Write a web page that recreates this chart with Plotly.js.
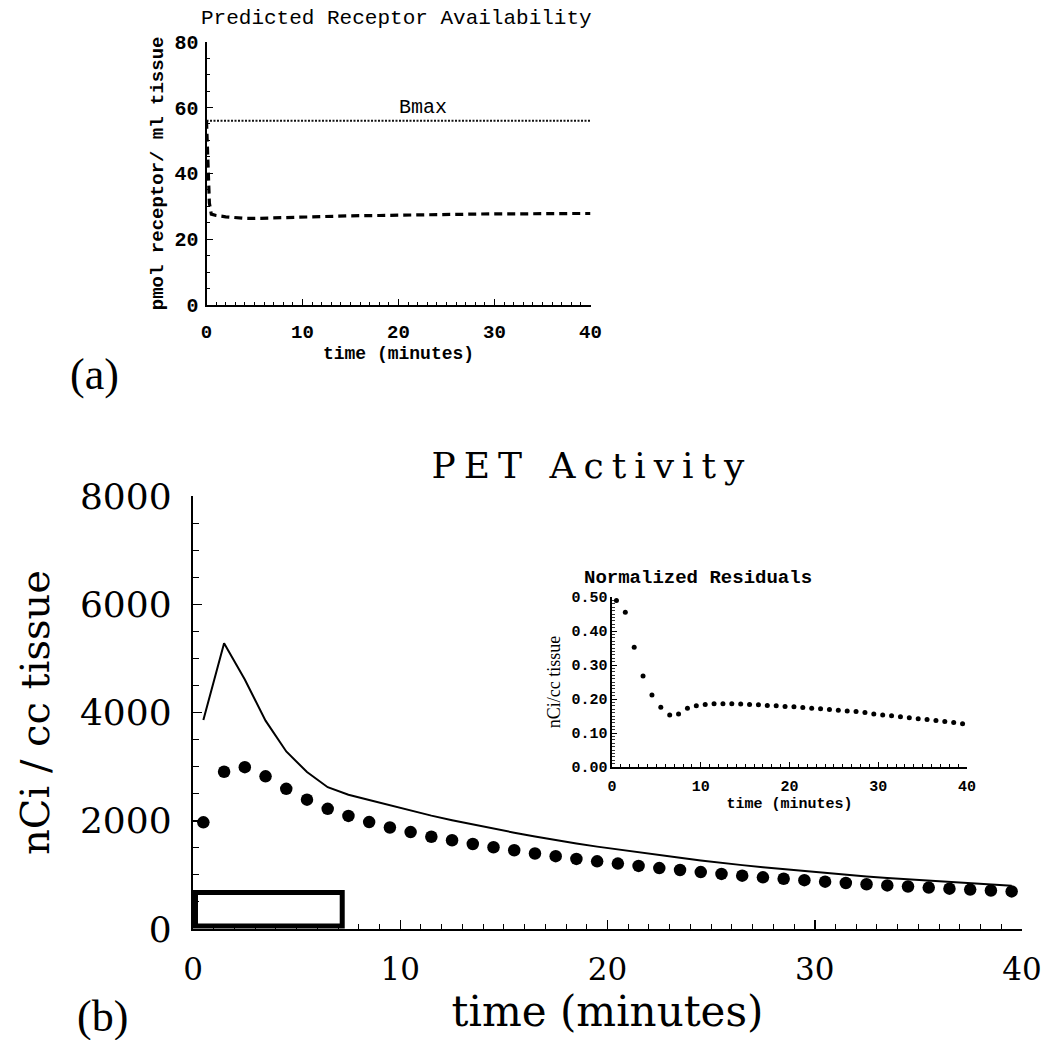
<!DOCTYPE html>
<html>
<head>
<meta charset="utf-8">
<script src="https://cdn.plot.ly/plotly-3.0.1.min.js"></script>
<style>
html,body{margin:0;padding:0;background:#ffffff;}
#chart{width:1053px;height:1040px;}
</style>
</head>
<body>
<div id="chart"></div>
<script>
// ---------- data ----------
// Panel (a): predicted receptor availability
const receptorTimes = [0, 0.1, 0.2, 0.3, 0.5, 1, 2, 3, 4, 5, 6, 8, 10, 12, 15, 18, 20, 22, 25, 28, 30, 33, 35, 38, 40];
const freeReceptors = [56, 47, 38, 31, 27.6, 27.2, 26.8, 26.5, 26.3, 26.3, 26.4, 26.6, 26.8, 26.9, 27.1, 27.2, 27.3, 27.4, 27.5, 27.6, 27.7, 27.7, 27.8, 27.8, 27.8];
const bmaxTimes = [0, 40];
const bmaxValues = [56, 56];
const bmaxLabel = {text: 'Bmax', t: 22.5, v: 60};

// Panel (b): PET activity (frame mid-times, minutes)
const frameTimes = [0.5, 1.5, 2.5, 3.5, 4.5, 5.5, 6.5, 7.5, 8.5, 9.5,
                    10.5, 11.5, 12.5, 13.5, 14.5, 15.5, 16.5, 17.5, 18.5, 19.5,
                    20.5, 21.5, 22.5, 23.5, 24.5, 25.5, 26.5, 27.5, 28.5, 29.5,
                    30.5, 31.5, 32.5, 33.5, 34.5, 35.5, 36.5, 37.5, 38.5, 39.5];
const measuredActivity = [1970, 2905, 2990, 2820, 2590, 2390, 2220, 2090, 1975, 1875,
                          1790, 1705, 1640, 1570, 1510, 1455, 1395, 1345, 1295, 1250,
                          1208, 1166, 1125, 1090, 1052, 1017, 985, 955, 928, 902,
                          875, 850, 826, 805, 785, 765, 745, 728, 712, 695];
const modelActivity = [3860, 5280, 4610, 3850, 3280, 2900, 2620, 2480, 2385, 2285,
                       2190, 2095, 2010, 1930, 1855, 1780, 1710, 1642, 1580, 1522,
                       1468, 1413, 1360, 1316, 1266, 1220, 1180, 1142, 1105, 1070,
                       1033, 1001, 969, 941, 915, 890, 864, 841, 819, 797];
// injection bar (minutes, nCi/cc)
const infusionTimes = [0.12, 7.2];
const infusionLevels = [55, 675];

// Inset: normalized residuals
const residualTimes = frameTimes;
const normalizedResiduals = [0.49, 0.455, 0.352, 0.268, 0.212, 0.176, 0.153, 0.156, 0.173, 0.180,
                             0.184, 0.186, 0.186, 0.186, 0.185, 0.184, 0.183, 0.181, 0.180, 0.178,
                             0.177, 0.175, 0.173, 0.171, 0.169, 0.167, 0.165, 0.163, 0.160, 0.156,
                             0.153, 0.151, 0.148, 0.145, 0.142, 0.140, 0.137, 0.134, 0.131, 0.127];

// ---------- styling ----------
const W = 1053, H = 1040;
const px = v => v / W;
const py = v => 1 - v / H;
const serif = 'DejaVu Serif, serif';
const times = 'Liberation Serif, serif';
const mono = 'Liberation Mono, monospace';

const traces = [
  {x: bmaxTimes, y: bmaxValues, xaxis: 'x2', yaxis: 'y2', mode: 'lines',
   line: {color: '#111', width: 2, dash: '2px,1.5px'}, hoverinfo: 'skip'},
  {x: receptorTimes, y: freeReceptors, xaxis: 'x2', yaxis: 'y2', mode: 'lines',
   line: {color: '#000', width: 3.2, dash: '8px,5px'}},
  {x: frameTimes, y: modelActivity, xaxis: 'x', yaxis: 'y', mode: 'lines',
   line: {color: '#000', width: 2}},
  {x: frameTimes, y: measuredActivity, xaxis: 'x', yaxis: 'y', mode: 'markers',
   marker: {color: '#000', size: 12.5, line: {width: 0}}},
  {x: residualTimes, y: normalizedResiduals, xaxis: 'x3', yaxis: 'y3', mode: 'markers',
   marker: {color: '#000', size: 5, line: {width: 0}}}
];

function axisBase(extra) {
  return Object.assign({
    showline: true, linecolor: '#000', showgrid: false, zeroline: false,
    ticks: 'inside', tickcolor: '#000', fixedrange: true
  }, extra);
}

const layout = {
  width: W, height: H,
  margin: {l: 0, r: 0, t: 0, b: 0, pad: 0},
  paper_bgcolor: '#ffffff',
  plot_bgcolor: 'rgba(0,0,0,0)',
  showlegend: false,
  title: {text: 'PET Activity', x: px(592), y: py(465), xref: 'paper', yref: 'paper',
          xanchor: 'center', yanchor: 'middle', font: {family: serif, size: 36, color: '#000'}},
  // main panel (b)
  xaxis: axisBase({
    domain: [px(193), px(1022)], range: [0, 40], anchor: 'y',
    linewidth: 2.2, tick0: 0, dtick: 10, ticklen: 9, tickwidth: 1.5,
    minor: {dtick: 1, ticklen: 5, tickwidth: 1, ticks: 'inside', tickcolor: '#000', showgrid: false},
    tickfont: {family: serif, size: 31, color: '#000'}, ticklabelstandoff: 12,
    title: {text: 'time (minutes)', font: {family: serif, size: 42, color: '#000'}, standoff: 2}
  }),
  yaxis: axisBase({
    domain: [py(929), py(496)], range: [0, 8000], anchor: 'x',
    linewidth: 2.2, tick0: 0, dtick: 2000, ticklen: 9, tickwidth: 1.5,
    minor: {dtick: 500, ticklen: 6, tickwidth: 1, ticks: 'inside', tickcolor: '#000', showgrid: false},
    tickfont: {family: serif, size: 36, color: '#000'}, ticklabelstandoff: 12,
    title: {text: 'nCi / cc tissue', font: {family: serif, size: 40, color: '#000'}, standoff: 18}
  }),
  // panel (a)
  xaxis2: axisBase({
    domain: [px(206.5), px(590.5)], range: [0, 40], anchor: 'y2',
    linewidth: 2, tick0: 0, dtick: 10, ticklen: 6, tickwidth: 1.2,
    minor: {dtick: 1, ticklen: 3, tickwidth: 1, ticks: 'inside', tickcolor: '#000', showgrid: false},
    tickfont: {family: mono, size: 19, color: '#000', weight: 'bold'}, ticklabelstandoff: 8,
    title: {text: 'time (minutes)', font: {family: mono, size: 18, color: '#000', weight: 'bold'}, standoff: 4}
  }),
  yaxis2: axisBase({
    domain: [py(305), py(41.7)], range: [0, 80], anchor: 'x2',
    linewidth: 2, tick0: 0, dtick: 20, ticklen: 6, tickwidth: 1.2,
    minor: {dtick: 5, ticklen: 3, tickwidth: 1, ticks: 'inside', tickcolor: '#000', showgrid: false},
    tickfont: {family: mono, size: 20, color: '#000', weight: 'bold'}, ticklabelstandoff: 2,
    title: {text: 'pmol receptor/ ml tissue', font: {family: mono, size: 19, color: '#000', weight: 'bold'}, standoff: 6}
  }),
  // inset
  xaxis3: axisBase({
    domain: [px(612), px(967)], range: [0, 40], anchor: 'y3',
    linewidth: 1.6, tick0: 0, dtick: 10, ticklen: 5, tickwidth: 1,
    minor: {dtick: 1, ticklen: 3, tickwidth: 1, ticks: 'inside', tickcolor: '#000', showgrid: false},
    tickfont: {family: mono, size: 15, color: '#000', weight: 'bold'}, ticklabelstandoff: 4,
    title: {text: 'time (minutes)', font: {family: mono, size: 15, color: '#000', weight: 'bold'}, standoff: 2}
  }),
  yaxis3: axisBase({
    domain: [py(767), py(597)], range: [0, 0.5], anchor: 'x3',
    linewidth: 1.6, tick0: 0, dtick: 0.1, tickformat: '.2f', ticklen: 5, tickwidth: 1,
    minor: {dtick: 0.01, ticklen: 3, tickwidth: 0.8, ticks: 'inside', tickcolor: '#000', showgrid: false},
    tickfont: {family: mono, size: 15, color: '#000', weight: 'bold'}, ticklabelstandoff: 0,
    title: {text: 'nCi/cc tissue', font: {family: times, size: 18, color: '#000'}, standoff: 6}
  }),
  shapes: [
    {type: 'rect', xref: 'x', yref: 'y', x0: infusionTimes[0], x1: infusionTimes[1],
     y0: infusionLevels[0], y1: infusionLevels[1], line: {color: '#000', width: 5}, fillcolor: 'rgba(0,0,0,0)'}
  ],
  annotations: [
    {text: 'Predicted Receptor Availability', xref: 'paper', yref: 'paper', x: px(396), y: py(18),
     xanchor: 'center', yanchor: 'middle', showarrow: false, font: {family: mono, size: 21, color: '#000'}},
    {text: bmaxLabel.text, xref: 'x2', yref: 'y2', x: bmaxLabel.t, y: bmaxLabel.v,
     xanchor: 'center', yanchor: 'middle', showarrow: false, font: {family: mono, size: 20, color: '#000'}},
    {text: 'Normalized Residuals', xref: 'paper', yref: 'paper', x: px(698), y: py(578),
     xanchor: 'center', yanchor: 'middle', showarrow: false, font: {family: mono, size: 19, color: '#000', weight: 'bold'}},
    {text: '(a)', xref: 'paper', yref: 'paper', x: px(94), y: py(374),
     xanchor: 'center', yanchor: 'middle', showarrow: false, font: {family: times, size: 44, color: '#000'}},
    {text: '(b)', xref: 'paper', yref: 'paper', x: px(102), y: py(1016),
     xanchor: 'center', yanchor: 'middle', showarrow: false, font: {family: times, size: 44, color: '#000'}}
  ]
};

Plotly.newPlot('chart', traces, layout, {staticPlot: true, displayModeBar: false}).then(function () {
  document.querySelectorAll('.gtitle').forEach(function (el) { el.style.letterSpacing = '8px'; });
});
</script>
</body>
</html>
